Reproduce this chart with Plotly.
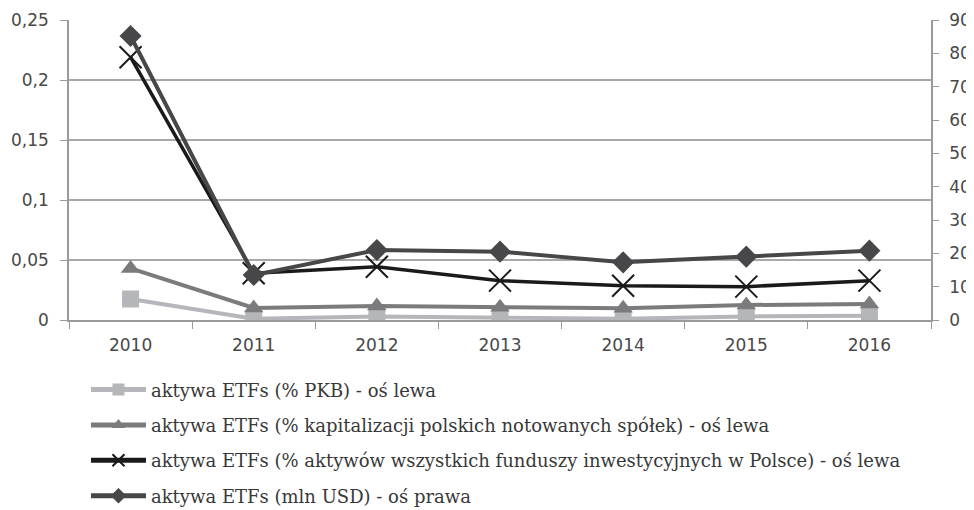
import plotly.graph_objects as go

years = ["2010", "2011", "2012", "2013", "2014", "2015", "2016"]
pkb = [0.0175, 0.001, 0.003, 0.002, 0.001, 0.003, 0.0036]
kapitalizacja = [0.043, 0.010, 0.0117, 0.0106, 0.0097, 0.0125, 0.0133]
aktywa_fund = [0.219, 0.039, 0.0444, 0.0328, 0.0286, 0.0278, 0.0328]
mln_usd = [85.2, 13.5, 21.0, 20.5, 17.3, 19.0, 20.8]

names = [
    "aktywa ETFs (% PKB) - oś lewa",
    "aktywa ETFs (% kapitalizacji polskich notowanych spółek) - oś lewa",
    "aktywa ETFs (% aktywów wszystkich funduszy inwestycyjnych w Polsce) - oś lewa",
    "aktywa ETFs (mln USD) - oś prawa",
]

fig = go.Figure()
fig.add_trace(go.Scatter(x=years, y=pkb, name=names[0], mode="lines+markers",
                         line=dict(color="#b5b6b9", width=4),
                         marker=dict(symbol="square", size=17, color="#b5b6b9"),
                         legendgroup="a"))
fig.add_trace(go.Scatter(x=years, y=kapitalizacja, name=names[1], mode="lines+markers",
                         line=dict(color="#7b7b7e", width=4),
                         marker=dict(symbol="triangle-up", size=17, color="#7b7b7e"),
                         legendgroup="b"))
fig.add_trace(go.Scatter(x=years, y=aktywa_fund, name=names[2], mode="lines+markers",
                         line=dict(color="#1a1a1a", width=3.5),
                         marker=dict(symbol="x-thin-open", size=22,
                                     line=dict(color="#1a1a1a", width=2)),
                         legendgroup="c"))
fig.add_trace(go.Scatter(x=years, y=mln_usd, name=names[3], mode="lines+markers",
                         line=dict(color="#47474a", width=4),
                         marker=dict(symbol="diamond", size=17, color="#47474a"),
                         yaxis="y2", legendgroup="d"))

axis_font = dict(family="DejaVu Sans", size=17, color="#484848")
fig.update_layout(
    width=966, height=502,
    margin=dict(l=61, r=43, t=12, b=190, autoexpand=False),
    paper_bgcolor="white", plot_bgcolor="white",
    separators=", ",
    showlegend=True,
    legend=dict(x=0.0197, y=-0.171, xanchor="left", yanchor="top",
                orientation="v", tracegroupgap=9, itemwidth=55,
                itemsizing="constant",
                font=dict(family="DejaVu Serif", size=18, color="#383838"),
                bgcolor="rgba(0,0,0,0)"),
    xaxis=dict(type="category", range=[-0.5, 6.5], showline=True,
               linecolor="#9a9a9a", linewidth=1.5, ticks="outside",
               tickson="boundaries", ticklen=7, tickcolor="#9a9a9a",
               ticklabelstandoff=9, automargin=False, tickangle=0,
               showgrid=False, tickfont=axis_font, zeroline=False),
    yaxis=dict(range=[0, 0.25], dtick=0.05, showline=True, linecolor="#9a9a9a",
               linewidth=1.5, ticks="outside", ticklen=7, tickcolor="#9a9a9a",
               ticklabelstandoff=8, automargin=False,
               showgrid=True, gridcolor="#a8a8a8", gridwidth=1.5,
               zeroline=False, tickfont=axis_font),
    yaxis2=dict(range=[0, 90], dtick=10, overlaying="y", side="right",
                showline=True, linecolor="#9a9a9a", linewidth=1.5,
                ticks="outside", ticklen=6, tickcolor="#9a9a9a",
                ticklabelstandoff=7, automargin=False,
                showgrid=False, zeroline=False, tickfont=axis_font),
)

fig.write_html("out.html")
